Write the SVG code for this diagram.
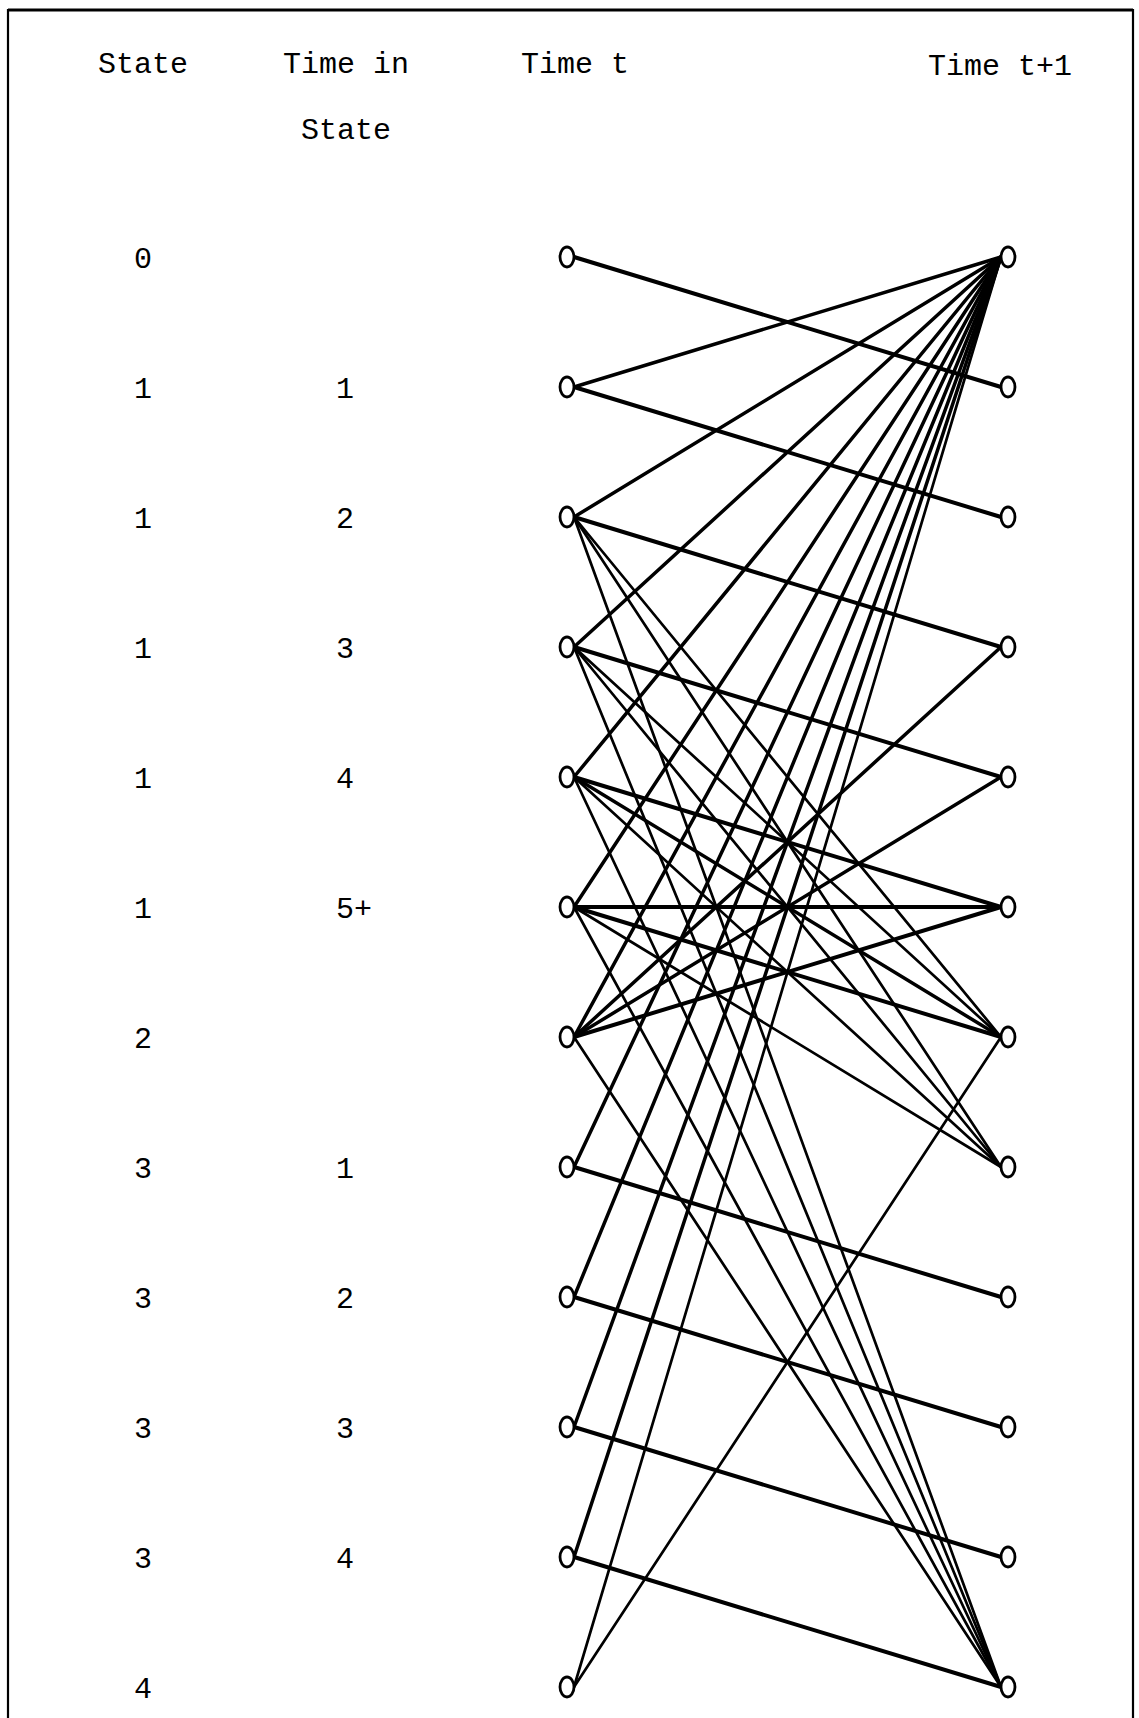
<svg xmlns="http://www.w3.org/2000/svg" width="1139" height="1718" viewBox="0 0 1139 1718">
<style>
text{font-family:"Liberation Mono","DejaVu Sans Mono",monospace;font-size:30px;fill:#000}
.h{text-anchor:middle}
.c line{stroke:#000;stroke-linecap:round}
.k{stroke-width:4}
.m{stroke-width:3.5}
.f{stroke-width:2.7}
.nd ellipse{fill:#fff;stroke:#000;stroke-width:2.8}
</style>
<rect width="1139" height="1718" fill="#fff"/>
<path d="M8,1718 V10 H1133 V1718" fill="none" stroke="#000" stroke-width="2.2"/>
<line x1="8" y1="10" x2="1133" y2="10" stroke="#000" stroke-width="3.2"/>
<g id="headers">
<text class="h" x="143" y="73">State</text>
<text class="h" x="346" y="73">Time in</text>
<text class="h" x="346" y="139">State</text>
<text class="h" x="575" y="73">Time t</text>
<text class="h" x="1000" y="75">Time t+1</text>
</g>
<g id="row-labels">
<text x="134" y="268">0</text>
<text x="134" y="398">1</text><text x="336" y="398">1</text>
<text x="134" y="528">1</text><text x="336" y="528">2</text>
<text x="134" y="658">1</text><text x="336" y="658">3</text>
<text x="134" y="788">1</text><text x="336" y="788">4</text>
<text x="134" y="918">1</text><text x="336" y="918">5+</text>
<text x="134" y="1048">2</text>
<text x="134" y="1178">3</text><text x="336" y="1178">1</text>
<text x="134" y="1308">3</text><text x="336" y="1308">2</text>
<text x="134" y="1438">3</text><text x="336" y="1438">3</text>
<text x="134" y="1568">3</text><text x="336" y="1568">4</text>
<text x="134" y="1698">4</text>
</g>
<g id="connectors" class="c">
<line class="k" x1="574" y1="257" x2="1001" y2="387"/>
<line class="m" x1="574" y1="387" x2="1001" y2="257"/>
<line class="k" x1="574" y1="387" x2="1001" y2="517"/>
<line class="m" x1="574" y1="517" x2="1001" y2="257"/>
<line class="k" x1="574" y1="517" x2="1001" y2="647"/>
<line class="f" x1="574" y1="517" x2="1001" y2="1037"/>
<line class="f" x1="574" y1="517" x2="1001" y2="1167"/>
<line class="f" x1="574" y1="517" x2="1001" y2="1687"/>
<line class="m" x1="574" y1="647" x2="1001" y2="257"/>
<line class="k" x1="574" y1="647" x2="1001" y2="777"/>
<line class="f" x1="574" y1="647" x2="1001" y2="1037"/>
<line class="f" x1="574" y1="647" x2="1001" y2="1167"/>
<line class="f" x1="574" y1="647" x2="1001" y2="1687"/>
<line class="m" x1="574" y1="777" x2="1001" y2="257"/>
<line class="k" x1="574" y1="777" x2="1001" y2="907"/>
<line class="m" x1="574" y1="777" x2="1001" y2="1037"/>
<line class="f" x1="574" y1="777" x2="1001" y2="1167"/>
<line class="f" x1="574" y1="777" x2="1001" y2="1687"/>
<line class="m" x1="574" y1="907" x2="1001" y2="257"/>
<line class="k" x1="574" y1="907" x2="1001" y2="907"/>
<line class="k" x1="574" y1="907" x2="1001" y2="1037"/>
<line class="f" x1="574" y1="907" x2="1001" y2="1167"/>
<line class="f" x1="574" y1="907" x2="1001" y2="1687"/>
<line class="m" x1="574" y1="1037" x2="1001" y2="257"/>
<line class="m" x1="574" y1="1037" x2="1001" y2="647"/>
<line class="m" x1="574" y1="1037" x2="1001" y2="777"/>
<line class="k" x1="574" y1="1037" x2="1001" y2="907"/>
<line class="f" x1="574" y1="1037" x2="1001" y2="1687"/>
<line class="m" x1="574" y1="1167" x2="1001" y2="257"/>
<line class="k" x1="574" y1="1167" x2="1001" y2="1297"/>
<line class="m" x1="574" y1="1297" x2="1001" y2="257"/>
<line class="k" x1="574" y1="1297" x2="1001" y2="1427"/>
<line class="m" x1="574" y1="1427" x2="1001" y2="257"/>
<line class="k" x1="574" y1="1427" x2="1001" y2="1557"/>
<line class="m" x1="574" y1="1557" x2="1001" y2="257"/>
<line class="k" x1="574" y1="1557" x2="1001" y2="1687"/>
<line class="f" x1="574" y1="1687" x2="1001" y2="257"/>
<line class="f" x1="574" y1="1687" x2="1001" y2="1037"/>
</g>
<g id="nodes-t" class="nd">
<g id="t0"><ellipse cx="567" cy="257" rx="7" ry="10"/></g>
<g id="t1"><ellipse cx="567" cy="387" rx="7" ry="10"/></g>
<g id="t2"><ellipse cx="567" cy="517" rx="7" ry="10"/></g>
<g id="t3"><ellipse cx="567" cy="647" rx="7" ry="10"/></g>
<g id="t4"><ellipse cx="567" cy="777" rx="7" ry="10"/></g>
<g id="t5"><ellipse cx="567" cy="907" rx="7" ry="10"/></g>
<g id="t6"><ellipse cx="567" cy="1037" rx="7" ry="10"/></g>
<g id="t7"><ellipse cx="567" cy="1167" rx="7" ry="10"/></g>
<g id="t8"><ellipse cx="567" cy="1297" rx="7" ry="10"/></g>
<g id="t9"><ellipse cx="567" cy="1427" rx="7" ry="10"/></g>
<g id="t10"><ellipse cx="567" cy="1557" rx="7" ry="10"/></g>
<g id="t11"><ellipse cx="567" cy="1687" rx="7" ry="10"/></g>
</g>
<g id="nodes-t1" class="nd">
<g id="u0"><ellipse cx="1008" cy="257" rx="7" ry="10"/></g>
<g id="u1"><ellipse cx="1008" cy="387" rx="7" ry="10"/></g>
<g id="u2"><ellipse cx="1008" cy="517" rx="7" ry="10"/></g>
<g id="u3"><ellipse cx="1008" cy="647" rx="7" ry="10"/></g>
<g id="u4"><ellipse cx="1008" cy="777" rx="7" ry="10"/></g>
<g id="u5"><ellipse cx="1008" cy="907" rx="7" ry="10"/></g>
<g id="u6"><ellipse cx="1008" cy="1037" rx="7" ry="10"/></g>
<g id="u7"><ellipse cx="1008" cy="1167" rx="7" ry="10"/></g>
<g id="u8"><ellipse cx="1008" cy="1297" rx="7" ry="10"/></g>
<g id="u9"><ellipse cx="1008" cy="1427" rx="7" ry="10"/></g>
<g id="u10"><ellipse cx="1008" cy="1557" rx="7" ry="10"/></g>
<g id="u11"><ellipse cx="1008" cy="1687" rx="7" ry="10"/></g>
</g>
</svg>
